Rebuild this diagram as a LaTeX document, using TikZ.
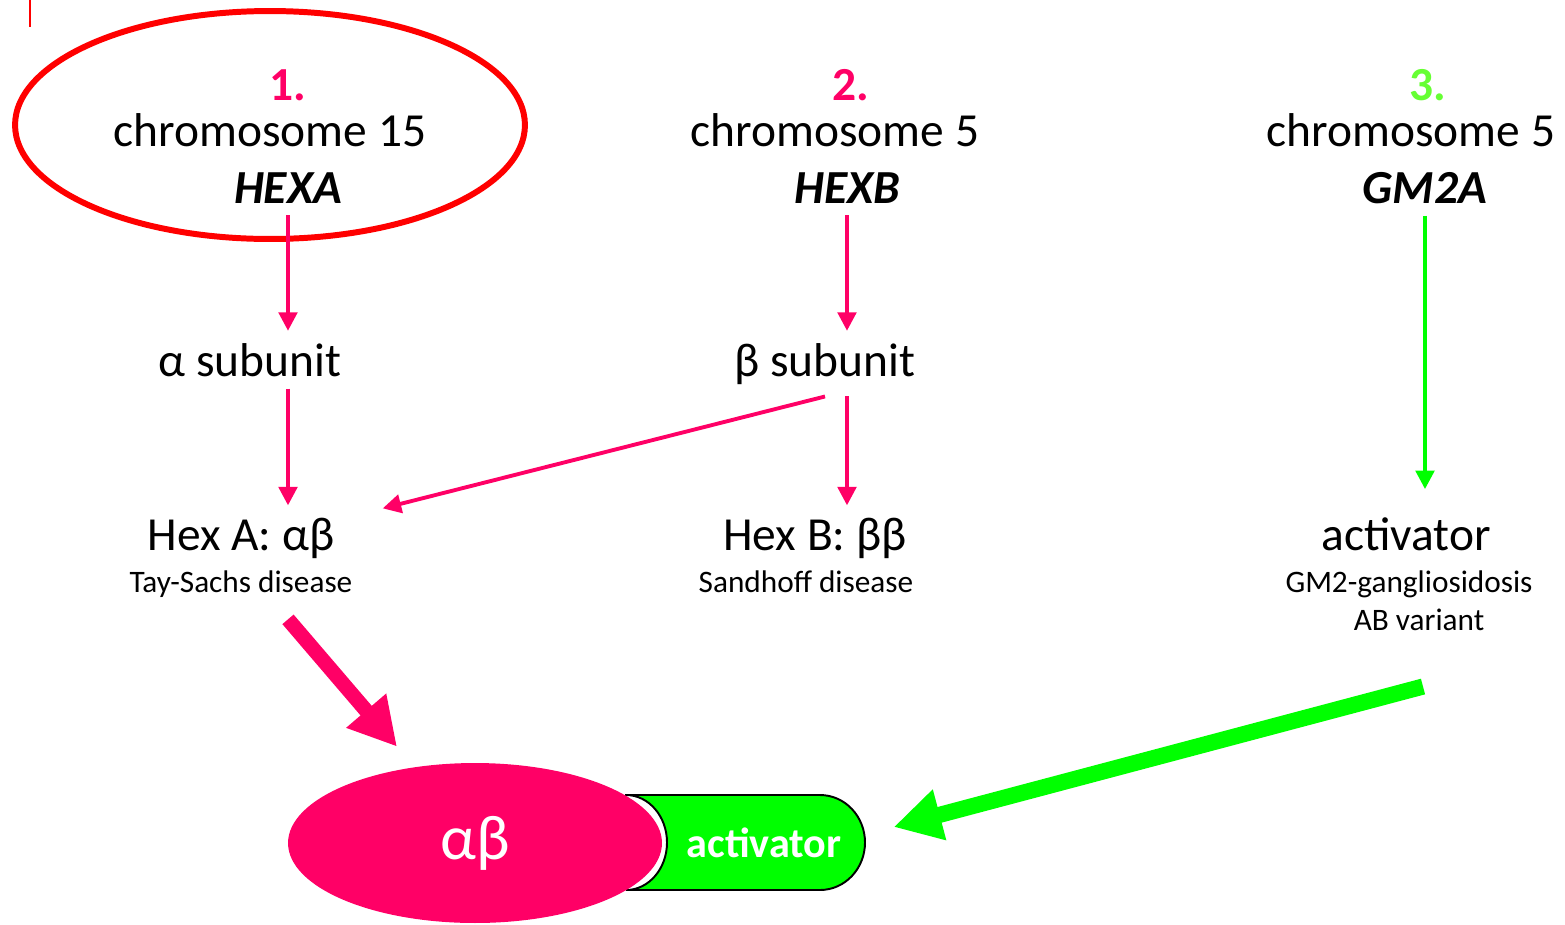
\documentclass[tikz,border=0pt]{standalone}
\usepackage{fontspec}
\setmainfont{Carlito}
\usepackage{tikz}
\usetikzlibrary{arrows.meta,calc,shapes.geometric}
\definecolor{hexpink}{HTML}{FF0066}
\definecolor{hexgreen}{HTML}{00FF00}
\definecolor{numgreen}{HTML}{66FF33}
\definecolor{ringred}{HTML}{FF0000}
\tikzset{
  >=Latex,
  every node/.style={inner xsep=0pt,inner ysep=6.8pt},
  big/.style={font=\fontsize{27}{32}\selectfont,anchor=base},
  small/.style={font=\fontsize{17.8}{21}\selectfont,anchor=base},
  num/.style={big,font=\fontsize{27}{32}\selectfont\bfseries},
  gene/.style={big,font=\fontsize{27}{32}\selectfont\bfseries\itshape},
  ring/.style={ellipse,draw=ringred,line width=3.4pt,minimum width=10.2cm,minimum height=4.56cm},
  enzyme/.style={ellipse,fill=hexpink,text=white,inner sep=0pt,minimum width=7.48cm,minimum height=3.2cm,font=\fontsize{36}{40}\selectfont},
  actbody/.style={fill=hexgreen,draw=black,line width=1.1pt},
  acttext/.style={text=white,inner sep=0pt,font=\fontsize{24}{28}\selectfont\bfseries},
  arrow/.style={-{Triangle[length=10.5pt,width=10.5pt]},line width=2.2pt,draw=hexpink},
  garrow/.style={arrow,draw=hexgreen},
  bigarrow/.style={-{Triangle[length=27pt,width=28pt]},line width=8.4pt,draw=hexpink},
  biggarrow/.style={bigarrow,line width=9.2pt,draw=hexgreen}
}
\begin{document}
\begin{tikzpicture}[x=0.02cm,y=-0.02cm]
  \useasboundingbox (0,0) rectangle (1565,924);
  \draw[ringred,line width=1.7pt] (30,0) -- (30,27);

  % three genes
  \node[ring] (ring) at (270,125) {};
  \node[num,text=hexpink] (num1) at (288,100) {1.};
  \node[big] (chr15) at (270,146) {chromosome 15};
  \node[gene] (gene1) at (288,203) {HEXA};

  \node[num,text=hexpink] (num2) at (851,100) {2.};
  \node[big] (chr5b) at (835,146) {chromosome 5};
  \node[gene] (gene2) at (847,203) {HEXB};

  \node[num,text=numgreen] (num3) at (1428,100) {3.};
  \node[big] (chr5c) at (1411,146) {chromosome 5};
  \node[gene] (gene3) at (1425,203) {GM2A};

  % subunits and enzymes
  \node[big] (asub) at (250,376) {α subunit};
  \node[big] (bsub) at (825,376) {β subunit};
  \node[big] (hexA) at (241,550) {Hex A: αβ};
  \node[small] (tay) at (241,592) {Tay-Sachs disease};
  \node[big] (hexB) at (815,550) {Hex B: ββ};
  \node[small] (sand) at (806,592) {Sandhoff disease};
  \node[big] (act) at (1406,550) {activator};
  \node[small] (gmg) at (1409,592) {GM2-gangliosidosis};
  \node[small] (avar) at (1419,630) {AB variant};

  % complex
  \draw[actbody] (626,795) -- (820,795) arc[start angle=-90,end angle=90,x radius=45,y radius=47.5]
    -- (626,890) arc[start angle=90,end angle=-90,x radius=41,y radius=47.5] -- cycle;
  \node[enzyme] (ab) at (475,843) {αβ};
  \node[acttext] (actx) at (764,843) {activator};

  \draw[arrow] (gene1.south) -- (gene1.south |- asub.north);
  \draw[arrow] (asub.south -| gene1.south) -- (gene1.south |- hexA.north);
  \draw[arrow] (gene2.south) -- (gene2.south |- bsub.north);
  \draw[arrow] (bsub.south -| gene2.south) -- (gene2.south |- hexB.north);
  \draw[arrow] (bsub.south) -- ($(hexA.north east)+(48,3)$);
  \draw[garrow,shorten >=9pt] (gene3.south) -- (gene3.south |- act.north);
  \draw[bigarrow] ($(tay.south -| gene1.south)+(0,10)$) -- ($(ab.north)+(-78,-16)$);
  \draw[biggarrow] ($(avar.south)+(4,44)$) -- ($(actx.east)+(52,-16)$);
\end{tikzpicture}
\end{document}
